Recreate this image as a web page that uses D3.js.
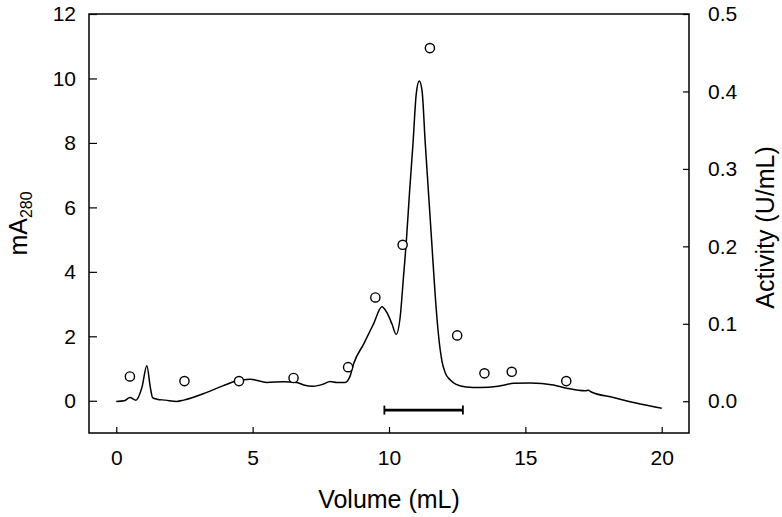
<!DOCTYPE html>
<html>
<head>
<meta charset="utf-8">
<script src="https://cdn.jsdelivr.net/npm/d3@7"></script>
<style>
  body { margin: 0; background: #fff; }
  svg text { font-family: "Liberation Sans", Arial, sans-serif; fill: #000; }
  .axis path { display: none; }
  .axis line { stroke: #000; stroke-width: 1.2px; }
</style>
</head>
<body>
<svg id="chart"></svg>
<script>
// elution profile, A280 (mA) against volume (mL)
const volume = [0, 0.3, 0.5, 0.72, 0.94, 1.12, 1.25, 1.33, 1.49, 1.8, 2.22, 2.47, 3.32, 3.93, 4.42, 4.91,
  5.52, 6.13, 6.62, 6.87, 7.23, 7.6, 7.84, 8.09, 8.39, 8.58, 8.7, 9.07, 9.43, 9.74, 9.92, 10.11, 10.26,
  10.41, 10.53, 10.63, 10.75, 10.88, 11.0, 11.11, 11.21, 11.33, 11.45, 11.57, 11.69, 11.81, 11.94,
  12.06, 12.24, 12.46, 12.83, 13.34, 14.0, 14.57, 15.18, 16.03, 16.52, 17.2, 17.31, 17.4, 18.23, 19.21, 20.0];
const a280 = [-0.02, 0.0, 0.1, 0.02, 0.41, 1.09, 0.41, 0.1, 0.05, 0.02, -0.02, 0.02, 0.26, 0.47, 0.62, 0.67,
  0.57, 0.59, 0.57, 0.49, 0.45, 0.52, 0.6, 0.57, 0.57, 0.78, 1.14, 1.76, 2.38, 2.92, 2.74, 2.38, 2.06,
  2.6, 3.83, 4.88, 6.43, 7.98, 9.53, 9.92, 9.63, 7.98, 6.43, 4.88, 3.32, 2.08, 1.24,
  0.87, 0.65, 0.51, 0.43, 0.41, 0.45, 0.54, 0.55, 0.49, 0.39, 0.31, 0.33, 0.28, 0.10, -0.10, -0.23];

// fraction activity (U/mL)
const fractionVolume = [0.5, 2.5, 4.5, 6.5, 8.5, 9.5, 10.5, 11.5, 12.5, 13.5, 14.5, 16.5];
const activity = [0.032, 0.026, 0.026, 0.030, 0.044, 0.134, 0.202, 0.456, 0.085, 0.036, 0.038, 0.026];

// pooled fractions
const poolRange = [9.83, 12.71];
const poolLevel = -0.29;

const xTicks = [0, 5, 10, 15, 20];
const leftTicks = [0, 2, 4, 6, 8, 10, 12];
const rightTicks = [0, 0.1, 0.2, 0.3, 0.4, 0.5];

class ElutionChart {

  constructor(_config) {
    this.config = {
      parentElement: _config.parentElement,
      containerWidth: _config.containerWidth || 782,
      containerHeight: _config.containerHeight || 517,
      margin: _config.margin || {top: 14, right: 93, bottom: 84, left: 89}
    };
    this.initVis();
  }

  initVis() {
    let vis = this;

    vis.width = vis.config.containerWidth - vis.config.margin.left - vis.config.margin.right;
    vis.height = vis.config.containerHeight - vis.config.margin.top - vis.config.margin.bottom;

    vis.xScale = d3.scaleLinear().domain([-1, 21]).range([0, vis.width]);
    vis.yScale = d3.scaleLinear().domain([-1, 12]).range([vis.height, 0]);
    vis.y2Scale = d3.scaleLinear().domain([-0.041, 0.5]).range([vis.height, 0]);

    // ticks point inwards
    vis.xAxis = d3.axisBottom(vis.xScale).tickValues(xTicks).tickSizeInner(-6).tickSizeOuter(0).tickPadding(17);
    vis.yAxis = d3.axisLeft(vis.yScale).tickValues(leftTicks).tickSizeInner(-8).tickSizeOuter(0).tickPadding(13);
    vis.y2Axis = d3.axisRight(vis.y2Scale).tickValues(rightTicks).tickFormat(d3.format('.1f'))
        .tickSizeInner(-6).tickSizeOuter(0).tickPadding(19);

    vis.svg = d3.select(vis.config.parentElement)
        .attr('width', vis.config.containerWidth)
        .attr('height', vis.config.containerHeight);

    vis.chart = vis.svg.append('g')
        .attr('transform', `translate(${vis.config.margin.left},${vis.config.margin.top})`);

    vis.chart.append('g')
        .attr('class', 'axis x-axis')
        .attr('transform', `translate(0,${vis.height})`)
        .call(vis.xAxis);
    vis.chart.append('g')
        .attr('class', 'axis y-axis')
        .call(vis.yAxis);
    vis.chart.append('g')
        .attr('class', 'axis y2-axis')
        .attr('transform', `translate(${vis.width},0)`)
        .call(vis.y2Axis);
    vis.chart.selectAll('.axis text').attr('font-size', '21px');

    vis.chart.append('rect')
        .attr('width', vis.width)
        .attr('height', vis.height)
        .attr('fill', 'none')
        .attr('stroke', '#000')
        .attr('stroke-width', 1.5);

    // axes titles
    vis.chart.append('text')
        .attr('text-anchor', 'middle')
        .attr('x', vis.width / 2)
        .attr('y', vis.height + 75)
        .attr('font-size', '25px')
        .text('Volume (mL)');

    let yTitle = vis.chart.append('text')
        .attr('text-anchor', 'middle')
        .attr('transform', 'rotate(-90)')
        .attr('x', -vis.height / 2)
        .attr('y', -62)
        .attr('font-size', '25px');
    yTitle.append('tspan').text('mA');
    yTitle.append('tspan').attr('font-size', '16px').attr('dy', 5).text('280');

    vis.chart.append('text')
        .attr('text-anchor', 'middle')
        .attr('transform', 'rotate(-90)')
        .attr('x', -vis.height / 2 - 4)
        .attr('y', vis.width + 85)
        .attr('font-size', '25px')
        .text('Activity (U/mL)');

    vis.marks = vis.chart.append('g');
    vis.updateVis();
  }

  updateVis() {
    let vis = this;
    vis.profile = volume.map((v, i) => ({x: v, y: a280[i]}));
    vis.fractions = fractionVolume.map((v, i) => ({x: v, y: activity[i]}));

    vis.line = d3.line()
        .x(d => vis.xScale(d.x))
        .y(d => vis.yScale(d.y))
        .curve(d3.curveMonotoneX);

    vis.renderVis();
  }

  renderVis() {
    let vis = this;

    vis.marks.append('path')
        .datum(vis.profile)
        .attr('fill', 'none')
        .attr('stroke', '#000')
        .attr('stroke-width', 1.5)
        .attr('d', vis.line);

    vis.marks.selectAll('.fraction')
      .data(vis.fractions)
      .join('circle')
        .attr('class', 'fraction')
        .attr('cx', d => vis.xScale(d.x))
        .attr('cy', d => vis.y2Scale(d.y))
        .attr('r', 4.6)
        .attr('fill', '#fff')
        .attr('stroke', '#000')
        .attr('stroke-width', 1.4);

    // pooled range bar with end caps
    let py = vis.yScale(poolLevel);
    let bar = vis.marks.append('g').attr('stroke', '#000').attr('stroke-width', 2.6);
    bar.append('line')
        .attr('x1', vis.xScale(poolRange[0])).attr('x2', vis.xScale(poolRange[1]))
        .attr('y1', py).attr('y2', py);
    bar.selectAll('.cap')
      .data(poolRange)
      .join('line')
        .attr('class', 'cap')
        .attr('x1', d => vis.xScale(d)).attr('x2', d => vis.xScale(d))
        .attr('y1', py - 4.5).attr('y2', py + 4.5)
        .attr('stroke-width', 1.8);
  }
}

new ElutionChart({parentElement: '#chart'});
</script>
</body>
</html>
